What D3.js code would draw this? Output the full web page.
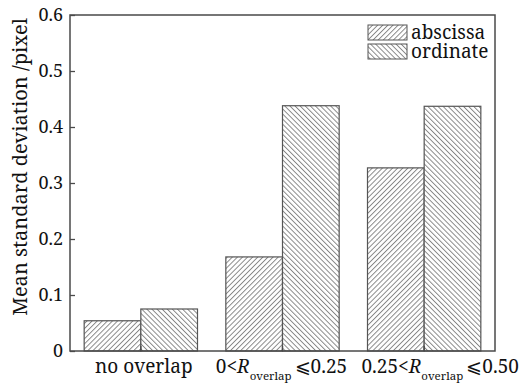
<!DOCTYPE html>
<html><head><meta charset="utf-8">
<script src="https://cdn.jsdelivr.net/npm/d3@7"></script>
<style>body{margin:0;background:#fff}svg{display:block}</style>
</head><body>
<script>
const categories = ["no overlap", "0<R≤0.25", "0.25<R≤0.50"];
const series = ["abscissa", "ordinate"];
const abscissa = [0.054, 0.168, 0.327];
const ordinate = [0.075, 0.438, 0.437];
const yTicks = [0, 0.1, 0.2, 0.3, 0.4, 0.5, 0.6];

const W = 523, H = 384;
const m = {left: 70, right: 28, top: 15, bottom: 33};
const svg = d3.select("body").append("svg").attr("width", W).attr("height", H);
const font = "Noto Serif";
const defs = svg.append("defs");
[["hatchA", 45], ["hatchO", -45]].forEach(([id, rot]) => {
  const p = defs.append("pattern").attr("id", id).attr("patternUnits", "userSpaceOnUse")
    .attr("width", 3.6).attr("height", 10).attr("patternTransform", `rotate(${rot})`);
  p.append("rect").attr("width", 3.6).attr("height", 10).attr("fill", "#fff");
  p.append("line").attr("x1", 0.5).attr("x2", 0.5).attr("y1", 0).attr("y2", 10)
    .attr("stroke", "#707070").attr("stroke-width", 0.85);
});
const fills = {abscissa: "url(#hatchA)", ordinate: "url(#hatchO)"};
const values = {abscissa, ordinate};

const x = d3.scaleBand().domain(categories).range([m.left, W - m.right]).paddingInner(0.2).paddingOuter(0.1);
const xs = d3.scaleBand().domain(series).range([0, x.bandwidth()]);
const y = d3.scaleLinear().domain([0, 0.6]).range([H - m.bottom, m.top]);

// bars
series.forEach(s => {
  svg.append("g").selectAll("rect").data(categories).join("rect")
    .attr("x", c => x(c) + xs(s))
    .attr("y", (c, i) => y(values[s][i]))
    .attr("width", xs.bandwidth())
    .attr("height", (c, i) => y(0) - y(values[s][i]))
    .attr("fill", fills[s]).attr("stroke", "#555").attr("stroke-width", 1.2);
});

// frame
svg.append("rect").attr("x", m.left).attr("y", m.top).attr("width", W - m.right - m.left)
  .attr("height", H - m.bottom - m.top).attr("fill", "none").attr("stroke", "#4a4a4a").attr("stroke-width", 1.5);

// y axis
const ya = svg.append("g").attr("transform", `translate(${m.left},0)`)
  .call(d3.axisLeft(y).tickValues(yTicks).tickSizeInner(-5).tickSizeOuter(0).tickPadding(7)
    .tickFormat(d => d === 0 ? "0" : d3.format(".1f")(d)));
ya.select(".domain").remove();
ya.selectAll("line").attr("stroke", "#4a4a4a").attr("stroke-width", 1.3);
ya.selectAll("text").attr("font-family", font).attr("font-size", 18).attr("fill", "#111");

// x axis
const xa = svg.append("g").attr("transform", `translate(0,${H - m.bottom})`)
  .call(d3.axisBottom(x).tickSizeInner(-5).tickSizeOuter(0).tickFormat(""));
xa.select(".domain").remove();
xa.selectAll("line").attr("stroke", "#4a4a4a").attr("stroke-width", 1.3);

// x labels
const lab = svg.append("g").attr("font-family", font).attr("font-size", 19).attr("fill", "#111");
const ly = H - m.bottom + 22;
lab.append("text").attr("x", x(categories[0]) + x.bandwidth() / 2 + 3).attr("y", ly)
  .attr("text-anchor", "middle").text("no overlap");
function rLabel(cat, lo, hi, dx) {
  const t = lab.append("text").attr("x", x(cat) + x.bandwidth() / 2 + dx).attr("y", ly).attr("text-anchor", "middle");
  t.append("tspan").text(lo + "<");
  t.append("tspan").attr("font-style", "italic").text("R");
  t.append("tspan").attr("font-size", 11.5).attr("dy", 7).text("overlap");
  t.append("tspan").attr("dy", -7).attr("dx", 3).text("⩽" + hi);
}
rLabel(categories[1], "0", "0.25", -1);
rLabel(categories[2], "0.25", "0.50", 16);

// y title
svg.append("text").attr("transform", `translate(27,${(m.top + H - m.bottom) / 2 - 16}) rotate(-90)`)
  .attr("text-anchor", "middle").attr("font-family", font).attr("font-size", 20).attr("fill", "#111")
  .text("Mean standard deviation /pixel");

// legend
const lg = svg.append("g");
series.forEach((s, i) => {
  const yy = 25 + i * 19;
  lg.append("rect").attr("x", 368).attr("y", yy).attr("width", 39).attr("height", 15)
    .attr("fill", fills[s]).attr("stroke", "#555").attr("stroke-width", 1);
  lg.append("text").attr("x", 411).attr("y", yy + 14).attr("font-family", font).attr("font-size", 19)
    .attr("fill", "#111").text(s);
});
</script>
</body></html>
